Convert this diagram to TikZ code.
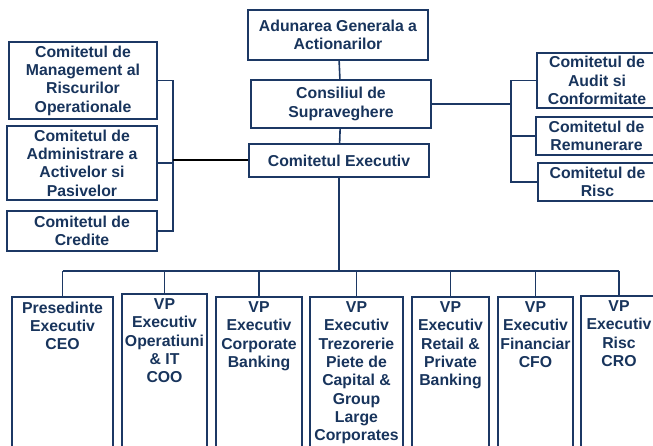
\documentclass[tikz,border=0pt]{standalone}
\usepackage{fontspec}
\setmainfont{Liberation Sans}
\definecolor{orgblue}{RGB}{28,56,100}
\definecolor{orgtext}{RGB}{24,52,92}

\begin{document}
\begin{tikzpicture}[x=1pt, y=-1pt, line join=miter,
  box/.style={draw=orgblue, line width=2pt, inner sep=0pt, align=center, text=orgtext,
    font=\fontsize{15.8}{18.3}\selectfont\bfseries},
  post/.style={anchor=north, inner xsep=0pt, inner ysep=4.6pt, align=center, text=orgtext,
    font=\fontsize{15.8}{18.3}\selectfont\bfseries},
  frame/.style={draw=orgblue, line width=2pt},
  link/.style={draw=orgblue, line width=1.6pt}]

\useasboundingbox (0,0) rectangle (653,446);
\clip (0,0) rectangle (653,446);

% central column
\node[box, minimum width=180, minimum height=50] (agm) at (338,35) {Adunarea Generala a\\Actionarilor};
\node[box, minimum width=180, minimum height=48] (csv) at (341,104) {Consiliul de\\Supraveghere};
\node[box, minimum width=180, minimum height=33] (exec) at (339,160.5) {Comitetul Executiv};

% committees of the executive
\node[box, minimum width=148, minimum height=77] (mgmt) at (83,80.5) {Comitetul de\\Management al\\Riscurilor\\Operationale};
\node[box, minimum width=150, minimum height=74] (alco) at (82,163) {Comitetul de\\Administrare a\\Activelor si\\Pasivelor};
\node[box, minimum width=150, minimum height=40] (cred) at (82,231) {Comitetul de\\Credite};

% committees of the board
\node[box, minimum width=120, minimum height=55] (audit) at (597,80.5) {Comitetul de\\Audit si\\Conformitate};
\node[box, minimum width=121, minimum height=38] (remun) at (596.5,136) {Comitetul de\\Remunerare};
\node[box, minimum width=119, minimum height=38] (risc) at (597.5,182) {Comitetul de\\Risc};

\coordinate (lbar) at (173,0);
\coordinate (rbar) at (511,0);
\coordinate (bus) at (339,271);

\draw[link] (agm) -- (csv);
\draw[link] (csv) -- (exec);

\draw[link] (mgmt.east) -| (lbar |- cred.east) -- (cred.east);
\draw[link] (alco.east) -- (alco.east -| lbar);
\draw[line width=2pt, black] (exec.west) -- (exec.west -| lbar);

\draw[link] (audit.west) -| (rbar |- risc.west) -- (risc.west);
\draw[link] (remun.west) -- (remun.west -| rbar);
\draw[link] (csv.east) -- (csv.east -| rbar);

% executive management
\foreach \nm/\cx/\w/\top/\txt in {
  ceo/62.5/101/297/{Presedinte\\Executiv\\CEO},
  coo/164.5/85/294/{VP\\Executiv\\Operatiuni\\\& IT\\COO},
  corp/259/86/297/{VP\\Executiv\\Corporate\\Banking},
  trez/356.5/93/297/{VP\\Executiv\\Trezorerie\\Piete de\\Capital \&\\Group\\Large\\Corporates},
  retail/450.5/77/297/{VP\\Executiv\\Retail \&\\Private\\Banking},
  cfo/535.5/75/297/{VP\\Executiv\\Financiar\\CFO},
  cro/619/76/296/{VP\\Executiv\\Risc\\CRO}}{
  \node[post, minimum width=\w] (\nm) at (\cx,\top) {\txt};
  \draw[frame] (\nm.north west) rectangle ([yshift=-200pt]\nm.north east);
  \draw[link] (\nm.north) -- (\nm.north |- bus);
}

\draw[link] (exec.south) -- (exec.south |- bus);
\draw[link] (ceo.north |- bus) -- (cro.north |- bus);

\end{tikzpicture}
\end{document}
